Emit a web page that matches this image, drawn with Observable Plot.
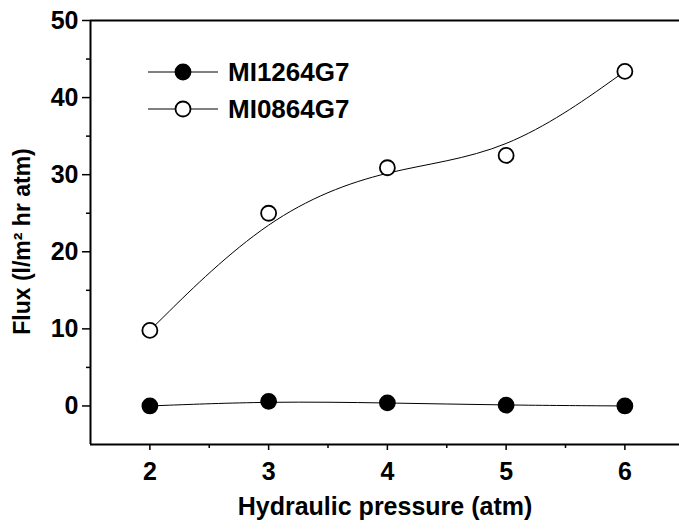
<!DOCTYPE html>
<html><head><meta charset="utf-8">
<script src="https://cdn.jsdelivr.net/npm/d3@7"></script>
<script src="https://cdn.jsdelivr.net/npm/@observablehq/plot@0.6"></script>
<style>
body{margin:0;background:#fff;}
#wrap{position:relative;width:679px;height:532px;}
.leg{position:absolute;left:148px;height:30px;display:flex;align-items:center;font:bold 26px "Liberation Sans",Arial,sans-serif;color:#000;}
.leg svg{display:block;}
</style></head><body><div id="wrap"></div>
<script>
const pressure = [2, 3, 4, 5, 6];
const seriesNames = ["MI1264G7", "MI0864G7"];
const fluxMI1264G7 = [0, 0.6, 0.4, 0.1, 0];
const fluxMI0864G7 = [9.8, 25, 30.9, 32.5, 43.4];
const xTicks = [2, 3, 4, 5, 6];
const xMinorTicks = [2.5, 3.5, 4.5, 5.5];
const yTicks = [0, 10, 20, 30, 40, 50];
const yMinorTicks = [5, 15, 25, 35, 45];
const xLabel = "Hydraulic pressure (atm)";
const yLabel = "Flux (l/m² hr atm)";
const markerFill = {"MI1264G7": "#000", "MI0864G7": "#fff"};

const seriesValues = [fluxMI1264G7, fluxMI0864G7];
const data = seriesNames.flatMap((s, i) => pressure.map((p, j) => ({series: s, x: p, y: seriesValues[i][j]})));

const font = '"Liberation Sans", Arial, sans-serif';
const chart = Plot.plot({
  width: 679, height: 532,
  marginLeft: 90, marginRight: 0, marginTop: 20, marginBottom: 88,
  style: {fontFamily: font, background: "#fff", color: "#000"},
  x: {domain: [1.5, 6.46]},
  y: {domain: [-5, 50]},
  marks: [
    Plot.axisY(yTicks, {tickSize: 8, tickPadding: 4, fontSize: 25, fontWeight: "bold", label: null, tickFormat: d => String(d), strokeWidth: 1.5}),
    Plot.axisY(yMinorTicks, {tickSize: 4, tickFormat: () => "", label: null, strokeWidth: 1.5}),
    Plot.axisX(xTicks, {tickSize: 6, tickPadding: 12, fontSize: 25, fontWeight: "bold", label: null, tickFormat: d => String(d), strokeWidth: 1.5}),
    Plot.axisX(xMinorTicks, {tickSize: 4, tickFormat: () => "", label: null, strokeWidth: 1.5}),
    Plot.ruleX([1.5], {stroke: "#000", strokeWidth: 2}),
    Plot.ruleY([-5], {stroke: "#000", strokeWidth: 2}),
    Plot.ruleY([50], {stroke: "#000", strokeWidth: 2}),
    Plot.lineY(data, {x: "x", y: "y", z: "series", curve: "basis", stroke: "#000", strokeWidth: 1}),
    Plot.dot(data, {x: "x", y: "y", r: 7.5, fill: d => markerFill[d.series], stroke: "#000", strokeWidth: 1.8}),
    Plot.text([xLabel], {text: d => d, frameAnchor: "bottom", textAnchor: "middle", dy: 70, fontSize: 25, fontWeight: "bold", fill: "#000"}),
    Plot.text([yLabel], {text: d => d, frameAnchor: "left", textAnchor: "middle", rotate: -90, dx: -68, dy: 9, fontSize: 23, fontWeight: "bold", fill: "#000"})
  ]
});
const wrap = document.getElementById("wrap");
wrap.appendChild(chart);

const legendTops = [57, 94];
seriesNames.forEach((s, i) => {
  const div = document.createElement("div");
  div.className = "leg";
  div.style.top = legendTops[i] + "px";
  const ns = "http://www.w3.org/2000/svg";
  const svg = document.createElementNS(ns, "svg");
  svg.setAttribute("width", 80); svg.setAttribute("height", 20);
  const line = document.createElementNS(ns, "line");
  line.setAttribute("x1", 0); line.setAttribute("x2", 70); line.setAttribute("y1", 10); line.setAttribute("y2", 10);
  line.setAttribute("stroke", "#000"); line.setAttribute("stroke-width", 1);
  const c = document.createElementNS(ns, "circle");
  c.setAttribute("cx", 35); c.setAttribute("cy", 10); c.setAttribute("r", 7.5);
  c.setAttribute("fill", markerFill[s]); c.setAttribute("stroke", "#000"); c.setAttribute("stroke-width", 1.8);
  svg.appendChild(line); svg.appendChild(c);
  const span = document.createElement("span");
  span.textContent = s;
  div.appendChild(svg); div.appendChild(span);
  wrap.appendChild(div);
});
</script></body></html>
